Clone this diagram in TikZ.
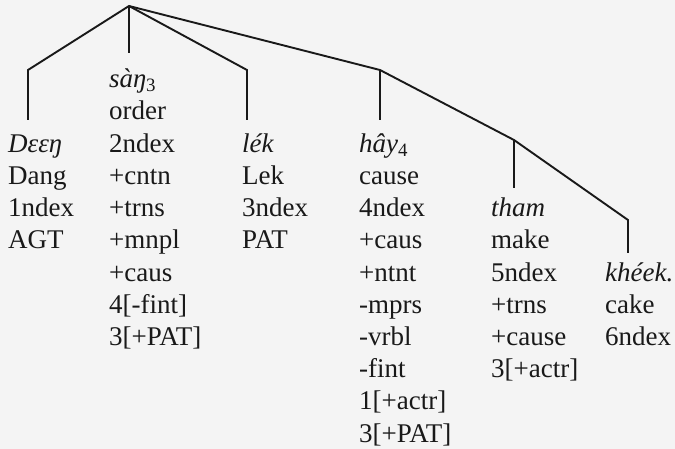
\documentclass[tikz,border=0pt]{standalone}
\usepackage{fontspec}
\setmainfont{Liberation Serif}
\usetikzlibrary{positioning}

\definecolor{ink}{gray}{0.1}
\definecolor{paper}{gray}{0.955}

\tikzset{
  word/.style={anchor=base west, inner sep=0pt, text=ink,
    font=\fontsize{27}{32}\selectfont},
  branch/.style={draw=ink, line width=1.9pt, line join=miter}
}

\begin{document}
\begin{tikzpicture}[x=1pt, y=-1pt]
  \fill[paper] (0,0) rectangle (675,449);
  \useasboundingbox (0,0) rectangle (675,449);

  % columns of words, one row every 32.2pt
  \foreach \w [count=\i from 2] in {{\itshape Dεεŋ}, Dang, 1ndex, AGT}
    \node[word] (deng\i) at (8, {87.8+32.2*\i}) {\w};
  \foreach \w [count=\i from 0] in {{\itshape sàŋ\textsubscript{\upshape 3}}, order, 2ndex, +cntn, +trns, +mnpl, +caus, 4[-fint], 3[+PAT]}
    \node[word] (sang\i) at (109, {87.8+32.2*\i}) {\w};
  \foreach \w [count=\i from 2] in {{\itshape lék}, Lek, 3ndex, PAT}
    \node[word] (lek\i) at (242, {87.8+32.2*\i}) {\w};
  \foreach \w [count=\i from 2] in {{\itshape hây\textsubscript{\upshape 4}}, cause, 4ndex, +caus, +ntnt, -mprs, -vrbl, -fint, 1[+actr], 3[+PAT]}
    \node[word] (hay\i) at (359, {87.8+32.2*\i}) {\w};
  \foreach \w [count=\i from 4] in {{\itshape tham}, make, 5ndex, +trns, +cause, 3[+actr]}
    \node[word] (tham\i) at (491, {87.8+32.2*\i}) {\w};
  \foreach \w [count=\i from 6] in {{\itshape khéek.}, cake, 6ndex}
    \node[word] (kheek\i) at (605, {87.8+32.2*\i}) {\w};

  % tree
  \coordinate (root) at (129,6);
  \coordinate (kDeng) at (28,70);
  \coordinate (eDeng) at (28,120);
  \coordinate (eSang) at (129,53);
  \coordinate (kLek) at (247,70);
  \coordinate (eLek) at (247,120);
  \coordinate (kHay) at (380,70);
  \coordinate (eHay) at (380,120);
  \coordinate (kTham) at (514,140);
  \coordinate (eTham) at (514,188);
  \coordinate (kKheek) at (628,220);
  \coordinate (eKheek) at (628,253);

  \draw[branch] (eDeng) -- (kDeng) -- (root) -- (kLek) -- (eLek);
  \draw[branch] (root) -- (eSang);
  \draw[branch] (root) -- (kHay) -- (kTham) -- (kKheek) -- (eKheek);
  \draw[branch] (kHay) -- (eHay);
  \draw[branch] (kTham) -- (eTham);
\end{tikzpicture}
\end{document}
